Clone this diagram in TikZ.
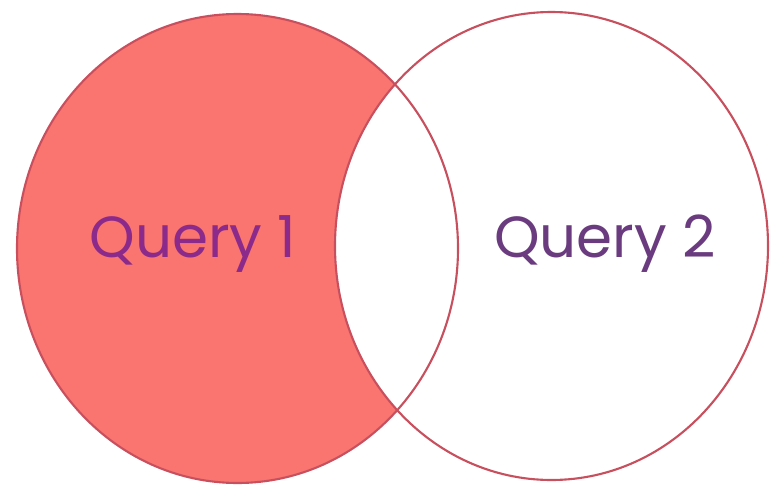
\documentclass[tikz,border=0pt]{standalone}
\usepackage{fontspec}
\setmainfont{Poppins}
\usepackage{tikz}
\usetikzlibrary{positioning}
\definecolor{setfill}{HTML}{FA7470}
\definecolor{setline}{HTML}{C8505E}
\definecolor{labone}{HTML}{8B2A8A}
\definecolor{labtwo}{HTML}{6B3B7F}

\begin{document}
\begin{tikzpicture}[x=0.02cm, y=-0.02cm, thick, set/.style = {draw=setline, line width=1.2pt}, lab/.style = {anchor=base, font=\fontsize{33}{36}\selectfont}]
\useasboundingbox (0,0) rectangle (775,487);
% left set minus right set
\fill[setfill] (237.5,248.5) ellipse [x radius=220.5, y radius=234.5];
\fill[white] (551.5,246) ellipse [x radius=216.5, y radius=234];
\draw[set] (237.5,248.5) ellipse [x radius=220.5, y radius=234.5];
\draw[set] (551.5,246) ellipse [x radius=216.5, y radius=234];
\node[lab, text=labone] (Q1) at (193,257) {Query 1};
\node[lab, text=labtwo] (Q2) at (605,257) {Query 2};
\end{tikzpicture}
\end{document}
